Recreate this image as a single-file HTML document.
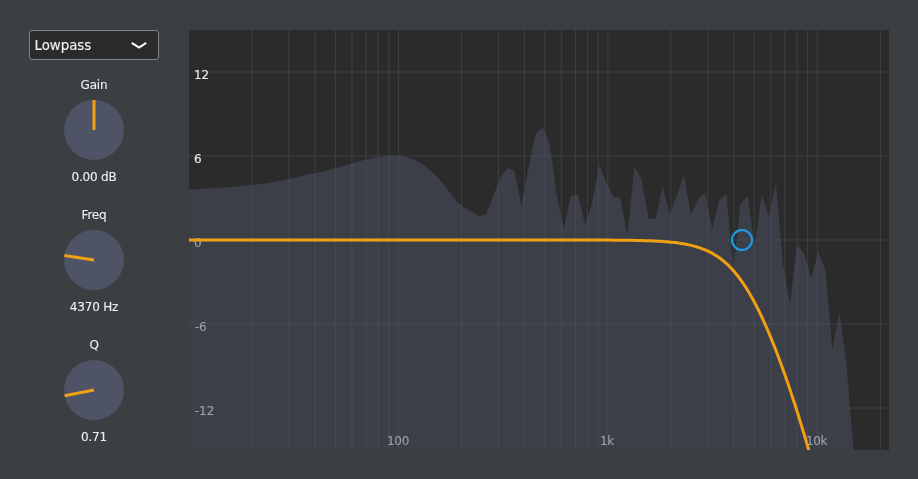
<!DOCTYPE html>
<html lang="en">
<head>
<meta charset="utf-8">
<title>Filter</title>
<style>
html,body{margin:0;padding:0;}
body{width:918px;height:479px;background:#3c3f42;overflow:hidden;position:relative;
  font-family:"DejaVu Sans","Liberation Sans",sans-serif;color:#eee;}
.select{position:absolute;left:29px;top:30px;width:130px;height:30px;box-sizing:border-box;
  border:1px solid #7c8589;border-radius:3px;background:#2b2b2b;font-size:13.3333px;line-height:30px;
  padding-left:4.5px;color:#f2f2f2;-webkit-text-stroke:0.13px #f2f2f2;}
.select svg{position:absolute;left:99px;top:9px;}
.knob{position:absolute;left:44px;width:100px;height:120px;text-align:center;font-size:12px;letter-spacing:-0.2px;-webkit-text-stroke:0.12px #eee;}
.knob .lbl{position:absolute;left:0;right:0;top:8px;line-height:14px;}
.knob .val{position:absolute;left:0;right:0;top:100px;line-height:14px;}
.dial{position:absolute;left:20px;top:30px;width:60px;height:60px;display:block;}
.plot{position:absolute;left:189px;top:30px;width:700px;height:420px;background:#2b2b2b;overflow:hidden;}
.plot svg{display:block;}
.plot text.dim{stroke-width:0.05px;}
.select,.knob,.plot{will-change:transform;}
.plot text{font-family:"DejaVu Sans","Liberation Sans",sans-serif;font-size:12px;fill:#ececec;stroke:#ececec;stroke-width:0.15px;letter-spacing:-0.2px;}
</style>
</head>
<body>
<div class="select">Lowpass<svg width="20" height="12" viewBox="0 0 20 12"><path d="M2.8 2.95 L10.05 7.6 L17.2 2.95" fill="none" stroke="#fff" stroke-width="2" stroke-linecap="butt" stroke-linejoin="miter"/></svg></div>
<div class="knob" style="top:70px">
  <div class="lbl">Gain</div>
  <svg class="dial" width="60" height="60" viewBox="0 0 60 60"><circle cx="30" cy="30" r="30" fill="#4e5366"/><line x1="30" y1="30" x2="30" y2="0" stroke="#f0a010" stroke-width="3" transform="rotate(0 30 30)"/></svg>
  <div class="val">0.00 dB</div>
</div>
<div class="knob" style="top:200px">
  <div class="lbl">Freq</div>
  <svg class="dial" width="60" height="60" viewBox="0 0 60 60"><circle cx="30" cy="30" r="30" fill="#4e5366"/><line x1="30" y1="30" x2="30" y2="0" stroke="#f0a010" stroke-width="3" transform="rotate(-81.2 30 30)"/></svg>
  <div class="val">4370 Hz</div>
</div>
<div class="knob" style="top:330px">
  <div class="lbl">Q</div>
  <svg class="dial" width="60" height="60" viewBox="0 0 60 60"><circle cx="30" cy="30" r="30" fill="#4e5366"/><line x1="30" y1="30" x2="30" y2="0" stroke="#f0a010" stroke-width="3" transform="rotate(-101.1 30 30)"/></svg>
  <div class="val">0.71</div>
</div>
<div class="plot">
<svg width="700" height="420" viewBox="0 0 700 420">
<g stroke="#3d4043" stroke-width="1" shape-rendering="auto"><line x1="63.04" y1="0" x2="63.04" y2="420"/><line x1="99.92" y1="0" x2="99.92" y2="420"/><line x1="126.09" y1="0" x2="126.09" y2="420"/><line x1="146.38" y1="0" x2="146.38" y2="420"/><line x1="162.97" y1="0" x2="162.97" y2="420"/><line x1="176.99" y1="0" x2="176.99" y2="420"/><line x1="189.13" y1="0" x2="189.13" y2="420"/><line x1="199.85" y1="0" x2="199.85" y2="420"/><line x1="209.43" y1="0" x2="209.43" y2="420"/><line x1="272.47" y1="0" x2="272.47" y2="420"/><line x1="309.35" y1="0" x2="309.35" y2="420"/><line x1="335.52" y1="0" x2="335.52" y2="420"/><line x1="355.81" y1="0" x2="355.81" y2="420"/><line x1="372.40" y1="0" x2="372.40" y2="420"/><line x1="386.42" y1="0" x2="386.42" y2="420"/><line x1="398.56" y1="0" x2="398.56" y2="420"/><line x1="409.27" y1="0" x2="409.27" y2="420"/><line x1="418.86" y1="0" x2="418.86" y2="420"/><line x1="481.90" y1="0" x2="481.90" y2="420"/><line x1="518.78" y1="0" x2="518.78" y2="420"/><line x1="544.95" y1="0" x2="544.95" y2="420"/><line x1="565.24" y1="0" x2="565.24" y2="420"/><line x1="581.83" y1="0" x2="581.83" y2="420"/><line x1="595.85" y1="0" x2="595.85" y2="420"/><line x1="607.99" y1="0" x2="607.99" y2="420"/><line x1="618.70" y1="0" x2="618.70" y2="420"/><line x1="628.29" y1="0" x2="628.29" y2="420"/><line x1="691.33" y1="0" x2="691.33" y2="420"/><line x1="0" y1="42.0" x2="700" y2="42.0"/><line x1="0" y1="126.0" x2="700" y2="126.0"/><line x1="0" y1="210.0" x2="700" y2="210.0"/><line x1="0" y1="294.0" x2="700" y2="294.0"/><line x1="0" y1="378.0" x2="700" y2="378.0"/></g>
<g><text x="5" y="49.4">12</text><text x="5" y="133.4">6</text><text x="5" y="217.4" class="dim">0</text><text x="5.7" y="301.4" class="dim" style="letter-spacing:0.1px">-6</text><text x="5.7" y="385.4" class="dim" style="letter-spacing:0.1px">-12</text><text class="dim" x="209.0" y="414.6" text-anchor="middle" style="letter-spacing:-0.35px">100</text><text class="dim" x="417.9" y="414.6" text-anchor="middle" style="letter-spacing:-0.35px">1k</text><text class="dim" x="627.6" y="414.6" text-anchor="middle" style="letter-spacing:-0.35px">10k</text></g>
<path d="M0,420 L0.0,159.8 L7.1,159.3 L14.1,158.8 L21.2,158.3 L28.3,157.9 L35.4,157.4 L42.4,156.9 L49.5,156.3 L56.6,155.7 L63.6,155.0 L70.7,154.3 L77.8,153.3 L84.8,152.0 L91.9,150.7 L99.0,149.3 L106.1,147.7 L113.1,146.0 L120.2,144.3 L127.3,142.9 L134.3,141.2 L141.4,139.4 L148.5,137.7 L155.6,135.7 L162.6,133.5 L169.7,131.6 L176.8,129.6 L183.8,128.2 L190.9,127.0 L198.0,126.1 L205.1,125.9 L212.1,126.0 L219.2,127.4 L226.3,130.3 L233.3,134.3 L240.4,139.4 L247.5,146.0 L254.5,154.3 L261.6,163.6 L268.7,172.7 L275.8,177.9 L282.8,181.4 L289.9,186.0 L297.0,184.5 L304.0,166.6 L311.1,148.5 L318.2,138.2 L325.3,140.6 L332.3,175.2 L339.4,139.0 L346.5,104.0 L353.5,97.0 L360.6,113.6 L367.7,164.8 L374.7,198.0 L381.8,166.3 L388.9,163.9 L396.0,194.2 L403.0,174.2 L410.1,135.0 L417.2,151.7 L424.2,166.9 L431.3,167.7 L438.4,205.2 L445.5,136.9 L452.5,149.2 L459.6,189.0 L466.7,188.7 L473.7,156.6 L480.8,185.2 L487.9,165.3 L494.9,145.6 L502.0,184.3 L509.1,169.1 L516.2,163.0 L523.2,199.0 L530.3,169.7 L537.4,163.9 L544.4,240.0 L551.5,174.1 L558.6,165.3 L565.7,216.0 L572.7,165.0 L579.8,186.3 L586.9,153.0 L593.9,233.5 L601.0,273.7 L608.1,214.5 L615.2,223.9 L622.2,248.2 L629.3,222.4 L636.4,240.0 L643.4,319.5 L650.5,282.2 L657.6,335.5 L664.6,420.0 L671.7,420.0 L678.8,420.0 L685.9,420.0 L692.9,420.0 L700.0,420.0 L700,420 Z" fill="#4e5366" fill-opacity="0.5"/>
<path d="M0.0,210.00 L2.0,210.00 L4.0,210.00 L6.0,210.00 L8.0,210.00 L10.0,210.00 L12.0,210.00 L14.0,210.00 L16.0,210.00 L18.0,210.00 L20.0,210.00 L22.0,210.00 L24.0,210.00 L26.0,210.00 L28.0,210.00 L30.0,210.00 L32.0,210.00 L34.0,210.00 L36.0,210.00 L38.0,210.00 L40.0,210.00 L42.0,210.00 L44.0,210.00 L46.0,210.00 L48.0,210.00 L50.0,210.00 L52.0,210.00 L54.0,210.00 L56.0,210.00 L58.0,210.00 L60.0,210.00 L62.0,210.00 L64.0,210.00 L66.0,210.00 L68.0,210.00 L70.0,210.00 L72.0,210.00 L74.0,210.00 L76.0,210.00 L78.0,210.00 L80.0,210.00 L82.0,210.00 L84.0,210.00 L86.0,210.00 L88.0,210.00 L90.0,210.00 L92.0,210.00 L94.0,210.00 L96.0,210.00 L98.0,210.00 L100.0,210.00 L102.0,210.00 L104.0,210.00 L106.0,210.00 L108.0,210.00 L110.0,210.00 L112.0,210.00 L114.0,210.00 L116.0,210.00 L118.0,210.00 L120.0,210.00 L122.0,210.00 L124.0,210.00 L126.0,210.00 L128.0,210.00 L130.0,210.00 L132.0,210.00 L134.0,210.00 L136.0,210.00 L138.0,210.00 L140.0,210.00 L142.0,210.00 L144.0,210.00 L146.0,210.00 L148.0,210.00 L150.0,210.00 L152.0,210.00 L154.0,210.00 L156.0,210.00 L158.0,210.00 L160.0,210.00 L162.0,210.00 L164.0,210.00 L166.0,210.00 L168.0,210.00 L170.0,210.00 L172.0,210.00 L174.0,210.00 L176.0,210.00 L178.0,210.00 L180.0,210.00 L182.0,210.00 L184.0,210.00 L186.0,210.00 L188.0,210.00 L190.0,210.00 L192.0,210.00 L194.0,210.00 L196.0,210.00 L198.0,210.00 L200.0,210.00 L202.0,210.00 L204.0,210.00 L206.0,210.00 L208.0,210.00 L210.0,210.00 L212.0,210.00 L214.0,210.00 L216.0,210.00 L218.0,210.00 L220.0,210.00 L222.0,210.00 L224.0,210.00 L226.0,210.00 L228.0,210.00 L230.0,210.00 L232.0,210.00 L234.0,210.00 L236.0,210.00 L238.0,210.00 L240.0,210.00 L242.0,210.00 L244.0,210.00 L246.0,210.00 L248.0,210.00 L250.0,210.00 L252.0,210.00 L254.0,210.00 L256.0,210.00 L258.0,210.00 L260.0,210.00 L262.0,210.00 L264.0,210.00 L266.0,210.00 L268.0,210.00 L270.0,210.00 L272.0,210.00 L274.0,210.00 L276.0,210.00 L278.0,210.00 L280.0,210.00 L282.0,210.00 L284.0,210.00 L286.0,210.00 L288.0,210.00 L290.0,210.00 L292.0,210.00 L294.0,210.00 L296.0,210.00 L298.0,210.00 L300.0,210.00 L302.0,210.00 L304.0,210.00 L306.0,210.00 L308.0,210.00 L310.0,210.00 L312.0,210.00 L314.0,210.00 L316.0,210.00 L318.0,210.00 L320.0,210.00 L322.0,210.00 L324.0,210.00 L326.0,210.00 L328.0,210.00 L330.0,210.00 L332.0,210.00 L334.0,210.00 L336.0,210.00 L338.0,210.00 L340.0,210.00 L342.0,210.00 L344.0,210.00 L346.0,210.00 L348.0,210.00 L350.0,210.00 L352.0,210.00 L354.0,210.00 L356.0,210.00 L358.0,210.00 L360.0,210.00 L362.0,210.00 L364.0,210.00 L366.0,210.00 L368.0,210.00 L370.0,210.00 L372.0,210.00 L374.0,210.00 L376.0,210.00 L378.0,210.00 L380.0,210.01 L382.0,210.01 L384.0,210.01 L386.0,210.01 L388.0,210.01 L390.0,210.02 L392.0,210.02 L394.0,210.02 L396.0,210.02 L398.0,210.03 L400.0,210.03 L402.0,210.04 L404.0,210.04 L406.0,210.05 L408.0,210.05 L410.0,210.06 L412.0,210.07 L414.0,210.07 L416.0,210.08 L418.0,210.09 L420.0,210.10 L422.0,210.12 L424.0,210.13 L426.0,210.14 L428.0,210.16 L430.0,210.18 L432.0,210.20 L434.0,210.22 L436.0,210.24 L438.0,210.27 L440.0,210.30 L442.0,210.33 L444.0,210.36 L446.0,210.40 L448.0,210.44 L450.0,210.48 L452.0,210.53 L454.0,210.59 L456.0,210.65 L458.0,210.71 L460.0,210.78 L462.0,210.86 L464.0,210.94 L466.0,211.04 L468.0,211.14 L470.0,211.25 L472.0,211.37 L474.0,211.51 L476.0,211.65 L478.0,211.81 L480.0,211.99 L482.0,212.18 L484.0,212.38 L486.0,212.61 L488.0,212.86 L490.0,213.13 L492.0,213.43 L494.0,213.75 L496.0,214.10 L498.0,214.48 L500.0,214.90 L502.0,215.35 L504.0,215.84 L506.0,216.38 L508.0,216.96 L510.0,217.60 L512.0,218.28 L514.0,219.03 L516.0,219.83 L518.0,220.70 L520.0,221.65 L522.0,222.66 L524.0,223.76 L526.0,224.94 L528.0,226.22 L530.0,227.58 L532.0,229.05 L534.0,230.62 L536.0,232.31 L538.0,234.10 L540.0,236.02 L542.0,238.06 L544.0,240.23 L546.0,242.53 L548.0,244.96 L550.0,247.53 L552.0,250.25 L554.0,253.10 L556.0,256.10 L558.0,259.25 L560.0,262.54 L562.0,265.97 L564.0,269.56 L566.0,273.28 L568.0,277.15 L570.0,281.16 L572.0,285.32 L574.0,289.60 L576.0,294.03 L578.0,298.58 L580.0,303.27 L582.0,308.08 L584.0,313.02 L586.0,318.07 L588.0,323.25 L590.0,328.54 L592.0,333.94 L594.0,339.46 L596.0,345.09 L598.0,350.82 L600.0,356.66 L602.0,362.61 L604.0,368.66 L606.0,374.82 L608.0,381.09 L610.0,387.46 L612.0,393.95 L614.0,400.54 L616.0,407.25 L618.0,414.07 L620.0,421.01 L622.0,428.08 L624.0,435.27 L626.0,442.60 L628.0,450.07" fill="none" stroke="#f0a010" stroke-width="3" stroke-linejoin="round"/>
<circle cx="553.0" cy="210.0" r="10" fill="none" stroke="#1a9fea" stroke-width="2"/>
</svg>
</div>
</body>
</html>
